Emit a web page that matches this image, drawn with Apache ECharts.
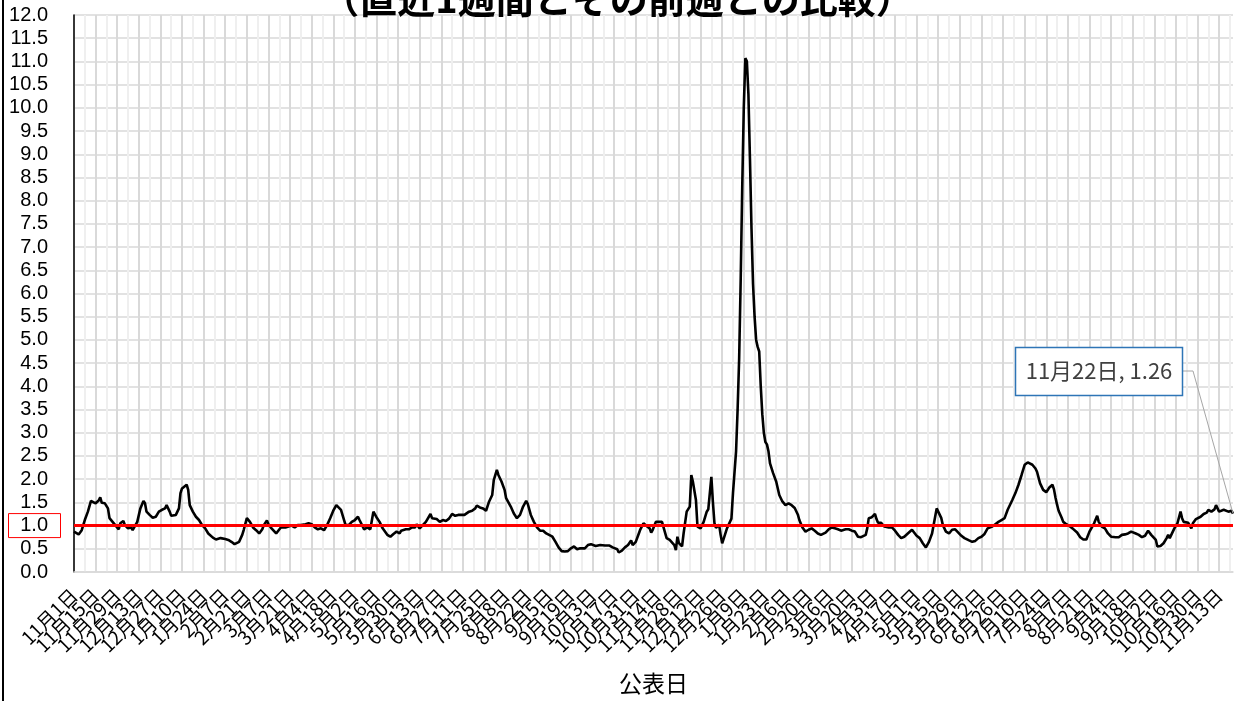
<!DOCTYPE html>
<html><head><meta charset="utf-8">
<script src="https://cdn.jsdelivr.net/npm/echarts@6/dist/echarts.min.js"></script>
<style>html,body{margin:0;padding:0;background:#fff}#chart{width:1235px;height:701px}</style>
</head><body><div id="chart"></div>
<script>
const titleText = '（直近1週間とその前週との比較）';
const xAxisName = '公表日';
const startYear = 2020, startMonth = 11, startDay = 1;
const dayCount = 752;
const labelEveryDays = 14;
const gridEveryDays = 7;
const yMin = 0, yMax = 12, yStep = 0.5;
const referenceLevel = 1.0;

const dayOffsets = [
0,3,5,7,9,11,12,14,16,17,18,20,22,23,25,27,29,30,32,33,35,37,38,41,43,45,46,47,49,51,53,55,57,59,60,62,63,64,66,68,69,70,73,74,75,77,79,
81,83,85,87,90,92,95,98,100,102,104,105,107,109,110,112,113,114,116,118,120,122,123,125,126,128,131,132,134,137,139,141,143,145,147,150,152,154,156,158,160,162,164,166,168,170,171,173,175,176,178,
180,182,184,185,186,188,190,192,194,196,198,200,203,205,207,209,211,212,215,217,219,221,222,224,226,228,231,232,235,237,239,241,243,245,247,249,251,253,256,258,260,261,263,265,267,269,271,272,274,275,277,279,
280,283,285,287,289,291,293,294,296,298,300,302,304,306,310,312,314,316,318,320,322,324,326,328,331,333,335,338,341,344,347,349,352,353,355,357,359,361,362,364,366,367,369,371,373,374,375,377,379,
381,382,384,386,387,389,390,391,392,394,395,397,398,399,400,401,402,403,404,406,408,410,411,412,413,414,415,416,418,419,420,421,423,424,426,427,429,430,431,432,433,434,435,436,437,438,439,440,
441,442,443,444,445,446,447,448,449,450,451,453,455,457,459,461,463,465,467,469,470,472,474,476,478,480,482,484,487,489,491,493,495,497,500,502,504,506,508,510,513,514,515,517,519,520,521,523,525,
528,530,532,534,536,538,541,543,544,546,548,550,552,554,556,558,559,560,562,563,565,567,569,571,573,575,577,580,582,584,586,588,590,592,595,597,599,601,603,605,608,610,612,614,616,618,621,623,624,626,628,
630,632,634,635,636,637,638,640,641,643,645,647,650,652,654,656,658,661,663,664,666,668,670,672,675,677,679,681,683,685,688,690,692,694,696,698,701,702,704,706,708,709,710,712,713,715,717,718,719,
722,724,725,727,730,732,734,735,737,739,740,742,743,745,746,748,750,751
];
const ratios = [
0.87,0.81,0.90,1.12,1.30,1.53,1.52,1.48,1.54,1.61,1.49,1.48,1.37,1.16,1.08,1.00,0.92,1.05,1.10,1.01,0.94,0.96,0.90,1.08,1.37,1.53,1.48,1.30,1.23,1.17,1.19,1.30,1.34,1.37,1.44,1.30,1.21,1.25,1.23,1.37,1.70,1.80,1.88,1.77,1.44,1.30,1.19,
1.12,1.01,0.94,0.83,0.74,0.70,0.73,0.71,0.69,0.65,0.60,0.58,0.65,0.80,0.91,1.16,1.17,1.08,0.96,0.90,0.83,0.92,1.01,1.11,1.03,0.94,0.83,0.87,0.96,0.96,0.98,1.00,0.96,1.01,1.01,1.03,1.05,1.03,0.96,0.92,0.94,0.90,1.01,1.16,1.32,1.44,1.44,1.34,1.12,1.01,1.01,
1.08,1.12,1.19,1.12,1.08,0.92,0.96,0.92,1.30,1.18,1.08,0.94,0.80,0.76,0.82,0.87,0.83,0.89,0.92,0.92,0.96,0.96,1.03,0.94,1.01,1.08,1.25,1.16,1.14,1.08,1.12,1.10,1.15,1.25,1.21,1.23,1.23,1.23,1.30,1.32,1.37,1.43,1.39,1.37,1.32,1.52,1.66,1.98,2.20,2.09,1.95,1.77,
1.59,1.41,1.26,1.16,1.23,1.41,1.53,1.47,1.23,1.08,0.96,0.89,0.89,0.83,0.76,0.65,0.53,0.45,0.44,0.45,0.51,0.55,0.49,0.51,0.51,0.58,0.60,0.56,0.58,0.57,0.57,0.53,0.49,0.42,0.46,0.53,0.58,0.68,0.58,0.65,0.83,0.92,1.05,0.99,0.94,0.85,0.91,1.08,1.08,
1.08,1.05,0.73,0.69,0.68,0.58,0.47,0.76,0.62,0.55,0.83,1.30,1.34,1.41,2.09,1.95,1.95,1.55,0.98,0.94,1.08,1.30,1.35,1.70,2.05,1.50,1.05,0.95,1.02,0.80,0.62,0.72,0.93,0.90,1.15,1.70,2.60,3.50,4.60,6.30,8.30,10.00,11.07,11.00,10.30,8.90,7.40,6.20,
5.50,5.00,4.85,4.75,4.00,3.40,3.00,2.80,2.75,2.60,2.34,2.13,1.95,1.66,1.52,1.44,1.48,1.44,1.38,1.24,1.12,0.96,0.87,0.91,0.94,0.89,0.83,0.80,0.85,0.92,0.96,0.94,0.92,0.89,0.92,0.92,0.89,0.87,0.76,0.75,0.80,0.94,1.16,1.18,1.25,1.14,1.06,1.06,0.98,
0.96,0.96,0.89,0.80,0.73,0.76,0.85,0.91,0.89,0.78,0.73,0.62,0.53,0.65,0.83,1.19,1.37,1.34,1.16,1.01,0.87,0.83,0.91,0.92,0.85,0.78,0.73,0.68,0.65,0.67,0.73,0.76,0.82,0.94,0.98,1.03,1.08,1.12,1.16,1.34,1.55,1.70,1.88,2.09,2.31,2.36,2.31,2.23,2.16,1.91,1.77,
1.72,1.82,1.88,1.78,1.60,1.45,1.32,1.17,1.08,1.03,0.99,0.94,0.85,0.75,0.70,0.70,0.87,1.05,1.21,1.08,0.98,0.94,0.83,0.76,0.75,0.75,0.80,0.81,0.83,0.87,0.83,0.80,0.75,0.78,0.89,0.80,0.69,0.55,0.56,0.62,0.73,0.80,0.73,0.87,0.94,1.05,1.30,1.16,1.08,
1.06,0.94,1.05,1.14,1.19,1.25,1.28,1.34,1.30,1.35,1.44,1.30,1.28,1.34,1.37,1.30,1.32,1.26
];

const categories = [];
for (let i = 0; i < dayCount; i++) {
  const d = new Date(Date.UTC(startYear, startMonth - 1, startDay + i));
  categories.push((d.getUTCMonth() + 1) + '月' + d.getUTCDate() + '日');
}
const seriesData = dayOffsets.map((o, k) => [o, ratios[k]]);

const JP = "'Noto Sans CJK JP', sans-serif";
const chart = echarts.init(document.getElementById('chart'), null, {renderer: 'canvas'});
chart.setOption({
  backgroundColor: '#ffffff',
  animation: false,
  title: {
    text: titleText, left: 'center', top: -25,
    textStyle: {fontFamily: JP, fontSize: 38, fontWeight: 'bold', color: '#000'}
  },
  grid: {left: 74, right: 2, top: 15, bottom: 129, containLabel: false, outerBoundsMode: 'none'},
  xAxis: {
    type: 'category', data: categories, boundaryGap: false,
    name: xAxisName, nameLocation: 'middle', nameGap: 100, nameMoveOverlap: false,
    nameTextStyle: {fontFamily: JP, fontSize: 23, color: '#000'},
    axisLine: {show: true, lineStyle: {color: '#d9d9d9', width: 1.5}},
    axisTick: {show: false},
    axisLabel: {interval: 0, rotate: 45, fontFamily: JP, fontSize: 19, color: '#000', margin: 20,
      hideOverlap: false,
      formatter: (v, idx) => (idx % labelEveryDays === 0 ? v : '')},
    splitLine: {show: true, interval: (idx) => idx % gridEveryDays === 0,
      lineStyle: {color: ['#d9d9d9', '#efefef'], width: 2}}
  },
  yAxis: {
    type: 'value', min: yMin, max: yMax, interval: yStep,
    axisLine: {show: true, lineStyle: {color: '#000', width: 1.5}},
    axisTick: {show: false},
    axisLabel: {formatter: v => v.toFixed(1), fontFamily: "'Liberation Sans', Arial, sans-serif",
      fontSize: 20, color: '#000', margin: 26},
    splitLine: {show: true, lineStyle: {color: '#d9d9d9', width: 1.5}}
  },
  series: [{
    type: 'line', data: seriesData, showSymbol: false, symbol: 'none',
    lineStyle: {color: '#000', width: 2.6}, z: 3,
    markLine: {silent: true, symbol: 'none', label: {show: false},
      lineStyle: {color: '#ff0000', width: 3, type: 'solid'},
      data: [{yAxis: referenceLevel}], z: 4}
  }]
});

const lastIdx = dayOffsets.length - 1;
const pt = chart.convertToPixel({xAxisIndex: 0, yAxisIndex: 0}, [dayOffsets[lastIdx], ratios[lastIdx]]);
const refY = chart.convertToPixel({yAxisIndex: 0}, referenceLevel);
chart.setOption({
  graphic: [
    {type: 'line', shape: {x1: 3, y1: 0, x2: 3, y2: 701}, style: {stroke: '#000', lineWidth: 2}},
    {type: 'rect', shape: {x: 8.5, y: refY - 12, width: 52, height: 24}, style: {fill: 'none', stroke: '#ff0000', lineWidth: 1}},
    {type: 'polyline', shape: {points: [[1183, 371], [1193, 371], [pt[0], pt[1]]]}, style: {stroke: '#a6a6a6', lineWidth: 1, fill: 'none'}, z: 10},
    {type: 'rect', shape: {x: 1015.5, y: 347.5, width: 167, height: 48}, style: {fill: '#fff', stroke: '#2e75b6', lineWidth: 1.5}, z: 10},
    {type: 'text', x: 1099, y: 371, z: 11, style: {text: categories[dayOffsets[lastIdx]] + ', ' + ratios[lastIdx].toFixed(2),
      fill: '#404040', font: "22px 'Noto Sans CJK JP', sans-serif", align: 'center', verticalAlign: 'middle'}}
  ]
});
</script></body></html>
